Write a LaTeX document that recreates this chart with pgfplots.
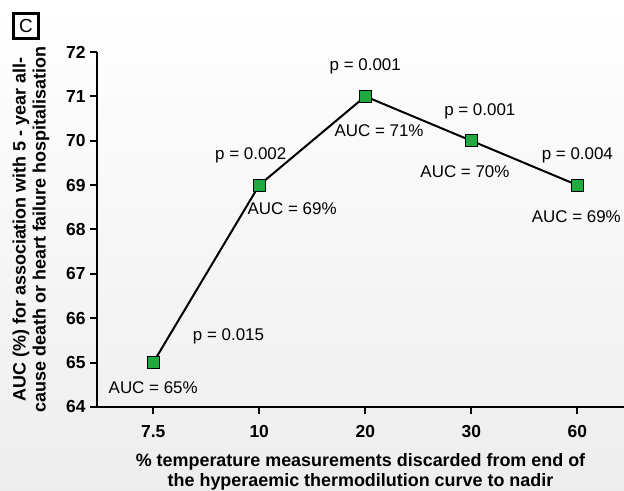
\documentclass[border=0pt]{standalone}
\usepackage{pgfplots}
\pgfplotsset{compat=1.18}
\usepackage{fontspec}
\setmainfont{Liberation Sans}
\definecolor{mkgreen}{RGB}{30,170,60}
\begin{document}
\begin{tikzpicture}[x=1bp,y=1bp]
\shade[top color=white, bottom color=black!7] (0,0) rectangle (624,491);
\path[use as bounding box] (0,0) rectangle (624,491);
\node[draw=black, line width=2.5bp, minimum width=25bp, minimum height=25bp, inner sep=0pt, font=\fontsize{19}{21}\selectfont] at (26,465) {C};
\begin{axis}[
  scale only axis,
  width=527bp, height=355bp,
  at={(97bp,84bp)}, anchor=south west,
  xmin=-0.53, xmax=4.44,
  ymin=64, ymax=72,
  axis x line*=bottom, axis y line*=left,
  axis line style={line width=2bp},
  xtick={0,1,2,3,4},
  xticklabels={7.5,10,20,30,60},
  ytick={64,65,...,72},
  tick style={line width=2bp, black},
  major tick length=7bp,
  tick align=outside,
  /pgf/number format/assume math mode=true,
  tick label style={font=\bfseries\fontsize{17.5}{20}\selectfont},
  xticklabel style={yshift=-8bp},
  yticklabel style={xshift=-1bp},
  clip=false,
  xlabel={\% temperature measurements discarded from end of\\the hyperaemic thermodilution curve to nadir},
  xlabel style={font=\bfseries\fontsize{18}{19.5}\selectfont, align=center, yshift=-9bp},
  ylabel={AUC (\%) for association with 5 - year all-\\cause death or heart failure hospitalisation},
  ylabel style={font=\bfseries\fontsize{18}{20}\selectfont, align=center, yshift=10bp},
]
\addplot[black, line width=2bp, mark=square*, mark size=6bp,
  mark options={fill=mkgreen, draw=black, line width=1bp}]
  coordinates {(0,65) (1,69) (2,71) (3,70) (4,69)};
\begin{scope}[every node/.style={font=\fontsize{17}{20}\selectfont}]
\node at (axis cs:0.71,65.6) {p = 0.015};
\node at (axis cs:0,64.43) {AUC = 65\%};
\node at (axis cs:0.92,69.68) {p = 0.002};
\node at (axis cs:1.31,68.46) {AUC = 69\%};
\node at (axis cs:2.0,71.68) {p = 0.001};
\node at (axis cs:2.13,70.22) {AUC = 71\%};
\node at (axis cs:3.08,70.67) {p = 0.001};
\node at (axis cs:2.94,69.30) {AUC = 70\%};
\node at (axis cs:4,69.68) {p = 0.004};
\node at (axis cs:3.99,68.30) {AUC = 69\%};
\end{scope}
\end{axis}
\end{tikzpicture}
\end{document}
